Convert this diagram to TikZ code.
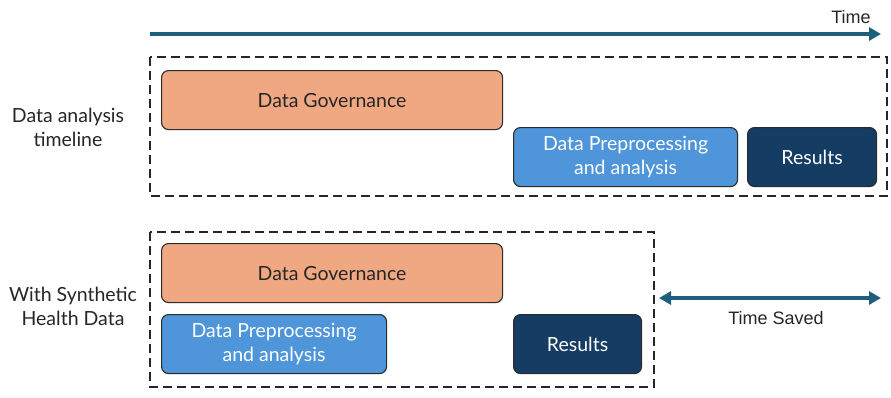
\documentclass[tikz,border=0pt]{standalone}
\usepackage{fontspec}
\setmainfont{Lato}
\newfontfamily\labelfont{Liberation Sans}
\usetikzlibrary{arrows.meta}
\definecolor{timeblue}{HTML}{1F5F7E}
\definecolor{govfill}{HTML}{F0A883}
\definecolor{prepfill}{HTML}{4E95D9}
\definecolor{resfill}{HTML}{153D64}
\definecolor{boxline}{HTML}{2B2B2B}
\tikzset{
  phase/.style={draw=boxline, line width=1.1pt, rounded corners=7pt, anchor=north west,
    inner sep=0pt, align=center, font=\fontsize{19.5}{24}\selectfont},
  govbox/.style={phase, fill=govfill, text=black!85},
  prepbox/.style={phase, fill=prepfill, text=white},
  resbox/.style={phase, fill=resfill, text=white},
  frame/.style={draw=black!85, line width=1.1pt, dash pattern=on 9pt off 5pt},
  sidelabel/.style={align=center, font=\fontsize{19.5}{24}\selectfont, text=black!85},
  timetext/.style={font=\labelfont\fontsize{18}{20}\selectfont, text=black!85},
  timearrow/.style={draw=timeblue, line width=3.5pt, -{Triangle[length=12pt, width=13pt]}},
  savedarrow/.style={draw=timeblue, line width=3.5pt, {Triangle[length=12pt, width=13pt]}-{Triangle[length=12pt, width=13pt]}},
}
\begin{document}
\begin{tikzpicture}[x=1pt, y=-1pt]
\useasboundingbox (0,0) rectangle (891,397);

% time axis
\coordinate (t0) at (150,34);
\coordinate (t1) at (881,34);
\draw[timearrow] (t0) -- (t1);
\node[timetext] (time) at (851,17) {Time};

% current timeline
\draw[frame] (150,57) rectangle (887,196);
\node[govbox, minimum width=341pt, minimum height=59pt] (gov1) at (161,70) {Data Governance};
\node[prepbox, minimum width=224pt, minimum height=59pt] (prep1) at (513,127) {Data Preprocessing\\and analysis};
\node[resbox, minimum width=129pt, minimum height=59pt] (res1) at (747,127) {Results};
\node[sidelabel] (lab1) at (68,127) {Data analysis\\timeline};

% with synthetic data
\draw[frame] (150,232) rectangle (654,387);
\node[govbox, minimum width=341pt, minimum height=59pt] (gov2) at (161,243) {Data Governance};
\node[prepbox, minimum width=225pt, minimum height=59pt] (prep2) at (161,314) {Data Preprocessing\\and analysis};
\node[resbox, minimum width=128pt, minimum height=59pt] (res2) at (513,314) {Results};
\node[sidelabel] (lab2) at (73,306) {With Synthetic\\Health Data};

% time saved
\coordinate (s0) at (659,298);
\coordinate (s1) at (881,298);
\draw[savedarrow] (s0) -- (s1);
\node[timetext] (saved) at (776,318) {Time Saved};
\end{tikzpicture}
\end{document}
